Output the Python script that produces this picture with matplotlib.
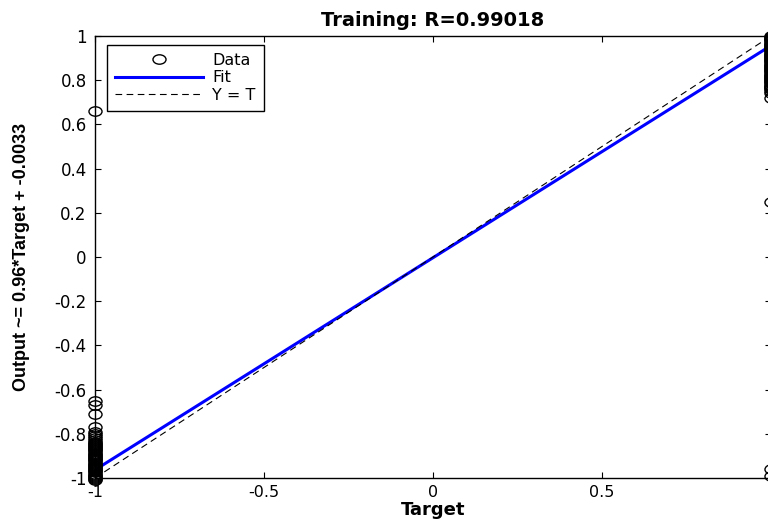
# regression plot of network output vs target for the training set

import matplotlib
matplotlib.use("Agg")
import matplotlib.pyplot as plt
import numpy as np
from matplotlib.path import Path
from matplotlib.transforms import Affine2D

plt.rcParams['font.family'] = ['DejaVu Sans']

# outputs for samples whose target is -1
neg_outputs = [0.66, -0.65, -0.67, -0.71, -0.77, -0.79, -0.80, -0.81, -0.82,
               -0.830, -0.835, -0.840, -0.845, -0.850, -0.855, -0.860, -0.865,
               -0.870, -0.875, -0.880, -0.885, -0.890, -0.895, -0.900, -0.905,
               -0.910, -0.915, -0.920, -0.925, -0.930, -0.935, -0.940, -0.945,
               -0.950, -0.955, -0.960, -0.965, -0.970, -0.975, -0.980, -0.985,
               -0.990, -0.995, -1.000, -1.005, -1.010]
# outputs for samples whose target is +1
pos_outputs = [1.000, 0.995, 0.990, 0.985, 0.980, 0.975, 0.970, 0.965, 0.960,
               0.955, 0.950, 0.945, 0.940, 0.935, 0.930, 0.925, 0.920, 0.915,
               0.910, 0.905, 0.900, 0.895, 0.890, 0.885, 0.880, 0.875, 0.870,
               0.865, 0.860, 0.855, 0.850, 0.845, 0.840, 0.835, 0.830, 0.825,
               0.820, 0.815, 0.810, 0.805, 0.800, 0.795, 0.790, 0.785, 0.780,
               0.775, 0.770, 0.765, 0.760, 0.750, 0.740, 0.720,
               0.25, -0.96, -0.99]

slope = 0.96
offset = -0.0033
r_value = 0.99018
x_ticks = [-1, -0.5, 0, 0.5, 1]
x_labels = ['-1', '-0.5', '0', '0.5', '']
y_ticks = [-1, -0.8, -0.6, -0.4, -0.2, 0, 0.2, 0.4, 0.6, 0.8, 1]
y_labels = ['-1', '-0.8', '-0.6', '-0.4', '-0.2', '0', '0.2', '0.4', '0.6', '0.8', '1']

targets = np.concatenate([np.full(len(neg_outputs), -1.0), np.full(len(pos_outputs), 1.0)])
outputs = np.concatenate([neg_outputs, pos_outputs])

# slightly flattened circle for the data markers
ell = Path.unit_circle().transformed(Affine2D().scale(1.0, 0.72))

fig = plt.figure(figsize=(7.68, 5.25), dpi=100)
ax = fig.add_axes([0.1237, 0.0895, 0.8802, 0.842])

line_x = np.array([-1.0, 1.0])
ax.plot(targets, outputs, linestyle='none', marker=ell, markersize=9.4,
        markerfacecolor='none', markeredgecolor='black', markeredgewidth=1.0,
        clip_on=False, label='Data', zorder=3)
ax.plot(line_x, slope * line_x + offset, color=(0, 0, 1), linewidth=2.2, label='Fit', zorder=2)
ax.plot(line_x, line_x, color='black', linestyle=(0, (6, 4)), linewidth=0.8, label='Y = T', zorder=2)

ax.set_xlim(-1, 1)
ax.set_ylim(-1, 1)
ax.set_xticks(x_ticks)
ax.set_xticklabels(x_labels)
ax.set_yticks(y_ticks)
ax.set_yticklabels(y_labels)
ax.tick_params(axis='y', direction='in', length=4.5, width=0.8, right=True,
               labelsize=12, pad=6)
ax.tick_params(axis='x', direction='in', length=4.5, width=0.8, top=True,
               labelsize=11.5, pad=5)
for sp in ax.spines.values():
    sp.set_linewidth(1.0)

ax.set_title('Training: R=%.5f' % r_value, fontsize=14, fontweight='bold', pad=7.5)
ax.set_xlabel('Target', fontsize=13, fontweight='bold', labelpad=0.5)
ax.set_ylabel('Output ~= %.2g*Target + %.2g' % (slope, offset), fontsize=13,
              fontweight='bold', family='Liberation Sans')
ax.yaxis.set_label_coords(-0.096, 0.5)

leg = ax.legend(loc='upper left', bbox_to_anchor=(0.0178, 0.98), borderaxespad=0,
                fontsize=11.5, fancybox=False, framealpha=1, edgecolor='black',
                handlelength=5.5, borderpad=0.5, labelspacing=0.15,
                handletextpad=0.6)
leg.get_frame().set_linewidth(1.0)

fig.savefig('out.png', dpi=100)
